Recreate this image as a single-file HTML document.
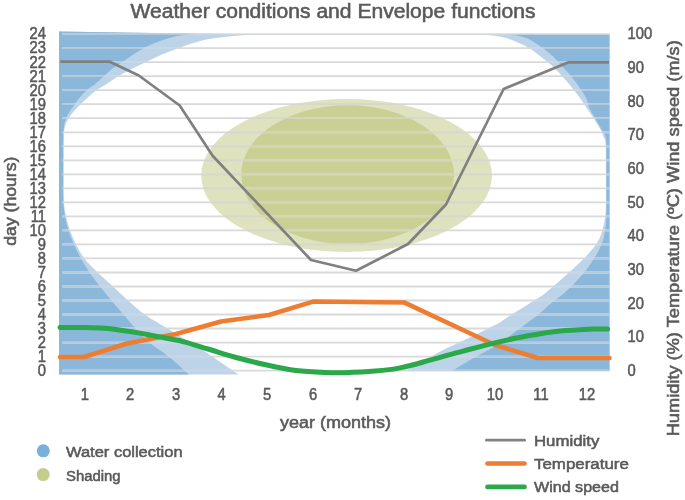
<!DOCTYPE html>
<html><head><meta charset="utf-8"><style>
html,body{margin:0;padding:0;background:#fff;width:685px;height:500px;overflow:hidden}
svg{display:block;filter:blur(0.65px)}
text{stroke:#595959;stroke-width:0.55px;paint-order:stroke}
</style></head><body>
<svg width="685" height="500" viewBox="0 0 685 500">
<rect width="685" height="500" fill="#fff"/>
<defs>
<path id="ll" d="M59,31.4 L258,34.5 C252,34.8 246,34.9 240,35.4 C234,35.9 228,36.5 222,37.3 C215.6,38.1 209.2,38.8 203,40.3 C194.9,42.3 186.9,45.2 179,48 C173.3,50 167.6,52.2 162,54.6 C156.9,56.7 152,59.2 147,61.5 C142.2,63.8 137.3,66 132.5,68.4 C127.8,70.8 123.1,73.3 118.5,76.1 C114.6,78.5 110.9,81.3 107,83.8 C103.4,86.1 99.5,88 96,90.5 C93,92.7 90.3,95.3 87.5,97.8 C85,100.1 82.4,102.4 80,104.8 C77.7,107.1 75.5,109.4 73.5,111.8 C71.7,113.9 69.9,116.1 68.5,118.5 C67.1,120.8 66,123.3 65.2,125.8 C64.5,128.1 64.1,130.6 63.8,133 C63.5,135.3 63.7,137.7 63.6,140 C63.6,141.7 63.5,143.3 63.5,145 C63.5,161.7 63.3,178.3 63.5,195 C63.5,198.3 63.8,201.7 64.2,205 C64.6,208.8 65.1,212.7 66,216.4 C67.1,221.1 68.4,225.8 70,230.4 C71.7,235.2 73.7,239.9 76,244.4 C78.5,249.3 81.2,254.2 84.5,258.6 C88.3,263.6 93,268.1 97.5,272.5 C102.5,277.4 107.9,281.8 113,286.5 C118,291.1 122.9,296 128,300.5 C133.5,305.4 139,310.5 145,314.8 C151.3,319.3 158.3,322.9 165,327 C172,331.3 179,335.7 186,340 C193,344.3 200.1,348.5 207,353 C217.6,360 228,367.3 238.5,374.5 L59,374.5 Z"/>
<path id="rl" d="M609.5,34.6 L480,34.4 C484.3,34.7 488.7,34.8 493,35.4 C497.4,36 501.8,36.8 506,38 C510.4,39.3 514.8,41.1 519,43 C522.8,44.6 526.5,46.4 530,48.5 C533.5,50.7 536.7,53.5 540,56 C543.2,58.5 546.5,60.9 549.5,63.5 C552.5,66.1 555.3,68.8 558,71.6 C560.8,74.5 563.4,77.5 566,80.5 C568.6,83.5 571.2,86.6 573.7,89.8 C576,92.7 578.3,95.7 580.5,98.8 C582.6,101.8 584.6,104.9 586.7,108 C588.5,110.7 590.2,113.3 592,116 C593.7,118.6 595.4,121.1 597,123.7 C598.4,125.9 599.8,128.2 601,130.5 C602,132.5 602.8,134.6 603.6,136.7 C604.3,138.4 605.1,140.2 605.4,142 C605.8,144.6 605.8,147.3 605.8,150 C605.9,170 606.1,190 605.8,210 C605.7,213.4 605.2,216.7 604.7,220 C604.1,223.4 603.5,226.7 602.5,230 C601.6,233.2 600.5,236.5 599,239.5 C597.8,242 596.1,244.3 594.5,246.5 C592.8,248.8 590.9,250.9 589,253 C587.4,254.9 585.8,256.8 584,258.6 C581.1,261.5 578,264.2 575,267 C572.8,269 570.7,271 568.5,273 C565.5,275.7 562.5,278.4 559.5,281 C557.2,283 554.8,285 552.5,287 C549.3,289.7 546.3,292.5 543,295 C540.5,296.9 537.7,298.3 535,300 C529.7,303.3 524.3,306.7 519,310 C516.3,311.7 513.6,313.3 511,315 C507,317.6 503.1,320.6 499,323 C495.1,325.2 491,327 487,329 C482.3,331.3 477.7,333.7 473,336 C468.4,338.2 463.7,340.3 459,342.5 C454.3,344.7 449.6,346.7 445,349 C439.9,351.5 435,354.2 430,357 C426,359.2 422,361.7 418,364 C413.7,366.4 409.3,368.7 405,371 L609.5,371 Z"/>
<path id="ld" d="M59,31.4 L195,33.8 C191,34.2 187,34.5 183,35.1 C179,35.7 174.9,36.5 171,37.6 C166.6,38.8 162.3,40.2 158,41.8 C153.8,43.4 149.5,45.1 145.5,47.2 C141.5,49.2 137.8,51.6 134,54 C130.3,56.4 126.7,59 123,61.5 C119.5,63.8 115.8,65.9 112.5,68.4 C109.5,70.7 106.8,73.5 104,76.1 C101.2,78.7 98.4,81.4 95.5,83.8 C92.6,86.2 89.3,88 86.5,90.5 C84,92.7 81.7,95.2 79.5,97.8 C77.6,100 76,102.4 74.3,104.8 C72.7,107.1 71,109.4 69.5,111.8 C68.2,114 66.9,116.2 66,118.5 C65.1,120.8 64.4,123.3 64,125.8 C63.6,128.2 63.4,130.6 63.4,133 C63.2,153.7 63.3,174.3 63.3,195 C63.3,198.3 63.2,201.7 63.5,205 C63.8,208.8 64.3,212.6 65,216.4 C65.9,221.1 66.9,225.8 68.4,230.4 C69.9,235.2 72,239.8 74,244.4 C76.2,249.2 78.5,254 81,258.6 C83.6,263.4 86.4,268 89.5,272.5 C92.8,277.3 96.4,281.9 100,286.5 C103.7,291.2 107.6,295.9 111.5,300.5 C115.5,305.3 119.4,310.1 123.5,314.8 C127.6,319.6 131.7,324.4 136,329 C140.5,333.8 145,338.8 150,343 C155.6,347.8 162.3,351.3 168,356 C175.2,361.8 181.9,368.3 188.8,374.5 L59,374.5 Z"/>
<path id="rd" d="M609.5,34.6 L506,34.4 C509.7,34.8 513.4,34.8 517,35.5 C520.4,36.1 523.8,37 527,38.3 C530,39.5 532.8,41.3 535.5,43 C538.4,44.8 541.2,46.9 544,49 C547,51.3 550.1,53.4 552.8,56 C555.2,58.3 557.2,61 559.5,63.5 C562,66.2 564.6,68.8 567,71.6 C569.6,74.5 572.1,77.4 574.5,80.5 C576.8,83.5 578.9,86.6 581,89.8 C582.9,92.7 585.1,95.6 586.5,98.8 C587.8,101.7 588,105.1 589.3,108 C590.5,110.8 592.4,113.3 594,116 C595.5,118.6 596.9,121.1 598.4,123.7 C599.6,125.8 600.8,127.9 602,130 C602.8,131.3 603.8,132.6 604.4,134 C605.2,135.7 606,137.5 606.2,139.3 C606.6,142.8 606.4,146.4 606.4,150 C606.5,171.7 606.6,193.3 606.4,215 C606.4,218.3 606.2,221.7 605.8,225 C605.2,229.7 604.5,234.4 603.5,239 C603.1,240.7 602.2,242.4 601.5,244 C600.2,247 599,250.1 597.5,253 C596.5,255 595.2,256.7 594,258.6 C592.2,261.4 590.4,264.3 588.5,267 C587.1,269.1 585.6,271.1 584,273 C581.6,275.8 579,278.3 576.5,281 C574.7,283 572.9,285.1 571,287 C568.1,289.8 565.1,292.5 562,295 C559.8,296.8 557.3,298.2 555,300 C552.6,301.9 550.3,304 548,306 C544.6,309 541.5,312.2 538,315 C534.5,317.8 530.6,320.3 527,323 C524.2,325.1 521.4,327.3 518.6,329.4 C514.7,332.3 510.9,335.2 507,338 C502.7,341.1 498.5,344.3 494,347 C488.8,350.1 483.3,352.6 478,355.5 C473.6,357.9 469.3,360.4 465,363 C460.6,365.6 456.3,368.3 452,371 L609.5,371 Z"/>
<ellipse id="eo" cx="346.6" cy="175.5" rx="145.4" ry="76.5"/>
<ellipse id="ei" cx="347.6" cy="174.6" rx="106.4" ry="69.4"/>
<g id="grid"><line x1="62.5" y1="370.6" x2="609.5" y2="370.6"/><line x1="62.5" y1="356.6" x2="609.5" y2="356.6"/><line x1="62.5" y1="342.6" x2="609.5" y2="342.6"/><line x1="62.5" y1="328.5" x2="609.5" y2="328.5"/><line x1="62.5" y1="314.5" x2="609.5" y2="314.5"/><line x1="62.5" y1="300.5" x2="609.5" y2="300.5"/><line x1="62.5" y1="286.5" x2="609.5" y2="286.5"/><line x1="62.5" y1="272.5" x2="609.5" y2="272.5"/><line x1="62.5" y1="258.4" x2="609.5" y2="258.4"/><line x1="62.5" y1="244.4" x2="609.5" y2="244.4"/><line x1="62.5" y1="230.4" x2="609.5" y2="230.4"/><line x1="62.5" y1="216.4" x2="609.5" y2="216.4"/><line x1="62.5" y1="202.4" x2="609.5" y2="202.4"/><line x1="62.5" y1="188.3" x2="609.5" y2="188.3"/><line x1="62.5" y1="174.3" x2="609.5" y2="174.3"/><line x1="62.5" y1="160.3" x2="609.5" y2="160.3"/><line x1="62.5" y1="146.3" x2="609.5" y2="146.3"/><line x1="62.5" y1="132.3" x2="609.5" y2="132.3"/><line x1="62.5" y1="118.2" x2="609.5" y2="118.2"/><line x1="62.5" y1="104.2" x2="609.5" y2="104.2"/><line x1="62.5" y1="90.2" x2="609.5" y2="90.2"/><line x1="62.5" y1="76.2" x2="609.5" y2="76.2"/><line x1="62.5" y1="62.2" x2="609.5" y2="62.2"/><line x1="62.5" y1="48.1" x2="609.5" y2="48.1"/><line x1="62.5" y1="34.1" x2="609.5" y2="34.1"/></g>
<clipPath id="cL"><use href="#ll"/><use href="#rl"/></clipPath>
<clipPath id="cD"><use href="#ld"/><use href="#rd"/></clipPath>
<clipPath id="cO"><use href="#eo"/></clipPath>
<clipPath id="cI"><use href="#ei"/></clipPath>
</defs>
<use href="#ll" fill="#bdd4e8"/>
<use href="#rl" fill="#bdd4e8"/>
<use href="#ld" fill="#8bb7da"/>
<use href="#rd" fill="#8bb7da"/>
<use href="#eo" fill="#dee2be"/>
<use href="#ei" fill="#cad094"/>
<use href="#grid" stroke="#d9d9d9" stroke-width="1.8"/>
<use href="#grid" stroke="rgb(199,215,231)" stroke-width="1.8" clip-path="url(#cL)"/>
<use href="#grid" stroke="rgb(182,201,219)" stroke-width="1.8" clip-path="url(#cD)"/>
<use href="#grid" stroke="rgb(215,216,205)" stroke-width="1.8" clip-path="url(#cO)"/>
<use href="#grid" stroke="rgb(212,212,186)" stroke-width="1.8" clip-path="url(#cI)"/>
<path d="M60.3,61.7 L109.8,61.7 L138.8,75.5 L179.7,105.5 L212.8,156 L311,260 L356,270.8 L408,244 L446,204.5 L503.6,89 L568.6,62.3 L609,62.3" fill="none" stroke="#808080" stroke-width="2.7" stroke-linejoin="round"/>
<path d="M60,357 L84,357 L127,343.5 L176,334 L221,321.5 L269,315 L313,301.6 L358,302.1 L404,302.4 L495,345 L538,358 L609.5,358" fill="none" stroke="#ed7d31" stroke-width="4.5" stroke-linejoin="round" stroke-linecap="round"/>
<path d="M60,327.4 C68.3,327.5 76.7,327.4 85,327.6 C92.7,327.8 100.4,327.7 108,328.5 C120.7,329.9 133.4,332.1 146,334.2 C152.4,335.3 158.7,336.7 165,338 C171.3,339.3 177.7,340.2 184,341.8 C192.1,343.9 200,346.6 208,349 C218,352 227.9,355.3 238,358 C247.6,360.6 257.3,362.9 267,365 C276.6,367.1 286.3,369.2 296,370.5 C305.6,371.7 315.3,372.1 325,372.5 C331.7,372.8 338.3,372.9 345,372.7 C355,372.4 365,372 375,371.1 C383.4,370.4 391.8,369.6 400,367.9 C410.8,365.7 421.4,362.4 432,359.6 C442.7,356.7 453.3,353.6 464,350.8 C474.6,348 485.3,345.1 496,342.6 C506.6,340.1 517.3,337.7 528,335.8 C538.6,333.9 549.3,332.1 560,331 C570.6,329.9 581.3,329.5 592,329 C597.2,328.8 602.3,328.9 607.5,328.9" fill="none" stroke="#2aa84a" stroke-width="5" stroke-linecap="round"/>
<g font-family="Liberation Sans, sans-serif" fill="#595959" font-size="16.8"><text transform="translate(46,375.9) scale(0.88,1)" text-anchor="end">0</text><text transform="translate(46,361.9) scale(0.88,1)" text-anchor="end">1</text><text transform="translate(46,347.9) scale(0.88,1)" text-anchor="end">2</text><text transform="translate(46,333.8) scale(0.88,1)" text-anchor="end">3</text><text transform="translate(46,319.8) scale(0.88,1)" text-anchor="end">4</text><text transform="translate(46,305.8) scale(0.88,1)" text-anchor="end">5</text><text transform="translate(46,291.8) scale(0.88,1)" text-anchor="end">6</text><text transform="translate(46,277.8) scale(0.88,1)" text-anchor="end">7</text><text transform="translate(46,263.7) scale(0.88,1)" text-anchor="end">8</text><text transform="translate(46,249.7) scale(0.88,1)" text-anchor="end">9</text><text transform="translate(46,235.7) scale(0.88,1)" text-anchor="end">10</text><text transform="translate(46,221.7) scale(0.88,1)" text-anchor="end">11</text><text transform="translate(46,207.7) scale(0.88,1)" text-anchor="end">12</text><text transform="translate(46,193.6) scale(0.88,1)" text-anchor="end">13</text><text transform="translate(46,179.6) scale(0.88,1)" text-anchor="end">14</text><text transform="translate(46,165.6) scale(0.88,1)" text-anchor="end">15</text><text transform="translate(46,151.6) scale(0.88,1)" text-anchor="end">16</text><text transform="translate(46,137.6) scale(0.88,1)" text-anchor="end">17</text><text transform="translate(46,123.5) scale(0.88,1)" text-anchor="end">18</text><text transform="translate(46,109.5) scale(0.88,1)" text-anchor="end">19</text><text transform="translate(46,95.5) scale(0.88,1)" text-anchor="end">20</text><text transform="translate(46,81.5) scale(0.88,1)" text-anchor="end">21</text><text transform="translate(46,67.5) scale(0.88,1)" text-anchor="end">22</text><text transform="translate(46,53.4) scale(0.88,1)" text-anchor="end">23</text><text transform="translate(46,39.4) scale(0.88,1)" text-anchor="end">24</text></g>
<g font-family="Liberation Sans, sans-serif" fill="#595959" font-size="16.8"><text transform="translate(627.5,375.9) scale(0.88,1)">0</text><text transform="translate(627.5,342.3) scale(0.88,1)">10</text><text transform="translate(627.5,308.6) scale(0.88,1)">20</text><text transform="translate(627.5,275) scale(0.88,1)">30</text><text transform="translate(627.5,241.3) scale(0.88,1)">40</text><text transform="translate(627.5,207.7) scale(0.88,1)">50</text><text transform="translate(627.5,174) scale(0.88,1)">60</text><text transform="translate(627.5,140.4) scale(0.88,1)">70</text><text transform="translate(627.5,106.7) scale(0.88,1)">80</text><text transform="translate(627.5,73.1) scale(0.88,1)">90</text><text transform="translate(627.5,39.4) scale(0.88,1)">100</text></g>
<g font-family="Liberation Sans, sans-serif" fill="#595959" font-size="16.8"><text transform="translate(84.8,400.3) scale(0.88,1)" text-anchor="middle">1</text><text transform="translate(130,400.3) scale(0.88,1)" text-anchor="middle">2</text><text transform="translate(176.2,400.3) scale(0.88,1)" text-anchor="middle">3</text><text transform="translate(221.5,400.3) scale(0.88,1)" text-anchor="middle">4</text><text transform="translate(267,400.3) scale(0.88,1)" text-anchor="middle">5</text><text transform="translate(313,400.3) scale(0.88,1)" text-anchor="middle">6</text><text transform="translate(358,400.3) scale(0.88,1)" text-anchor="middle">7</text><text transform="translate(404,400.3) scale(0.88,1)" text-anchor="middle">8</text><text transform="translate(449,400.3) scale(0.88,1)" text-anchor="middle">9</text><text transform="translate(495,400.3) scale(0.88,1)" text-anchor="middle">10</text><text transform="translate(541,400.3) scale(0.88,1)" text-anchor="middle">11</text><text transform="translate(587,400.3) scale(0.88,1)" text-anchor="middle">12</text></g>
<text font-family="Liberation Sans, sans-serif" fill="#595959" font-size="20" x="333" y="17.5" text-anchor="middle" textLength="405" lengthAdjust="spacingAndGlyphs">Weather conditions and Envelope functions</text>
<text font-family="Liberation Sans, sans-serif" fill="#595959" font-size="16" x="335.6" y="428" text-anchor="middle" textLength="111" lengthAdjust="spacingAndGlyphs">year (months)</text>
<text font-family="Liberation Sans, sans-serif" fill="#595959" font-size="17" transform="translate(16.3,201.2) rotate(-90)" text-anchor="middle" textLength="89" lengthAdjust="spacingAndGlyphs">day (hours)</text>
<text font-family="Liberation Sans, sans-serif" fill="#595959" font-size="16" transform="translate(679,238.3) rotate(-90)" text-anchor="middle" textLength="396" lengthAdjust="spacingAndGlyphs">Humidity (%) Temperature (ºC) Wind speed (m/s)</text>
<circle cx="43.3" cy="450.8" r="6.5" fill="#7ab0dc"/>
<circle cx="43.2" cy="474.6" r="6.5" fill="#c4cd8c"/>
<text font-family="Liberation Sans, sans-serif" fill="#595959" font-size="15.5" x="66" y="456.8" textLength="116.6" lengthAdjust="spacingAndGlyphs">Water collection</text>
<text font-family="Liberation Sans, sans-serif" fill="#595959" font-size="15.5" x="66" y="480.9" textLength="54.6" lengthAdjust="spacingAndGlyphs">Shading</text>
<line x1="486.5" y1="440.2" x2="524.5" y2="440.2" stroke="#828282" stroke-width="2.8" stroke-linecap="round"/>
<line x1="487.5" y1="463.5" x2="524.5" y2="463.5" stroke="#ed7d31" stroke-width="4.7" stroke-linecap="round"/>
<line x1="487.5" y1="486.9" x2="524.5" y2="486.9" stroke="#2aa84a" stroke-width="4.7" stroke-linecap="round"/>
<text font-family="Liberation Sans, sans-serif" fill="#595959" font-size="15.5" x="534" y="445.6" textLength="65.3" lengthAdjust="spacingAndGlyphs">Humidity</text>
<text font-family="Liberation Sans, sans-serif" fill="#595959" font-size="15.5" x="534" y="469" textLength="94.8" lengthAdjust="spacingAndGlyphs">Temperature</text>
<text font-family="Liberation Sans, sans-serif" fill="#595959" font-size="15.5" x="534" y="492" textLength="84.9" lengthAdjust="spacingAndGlyphs">Wind speed</text>
</svg>
</body></html>
